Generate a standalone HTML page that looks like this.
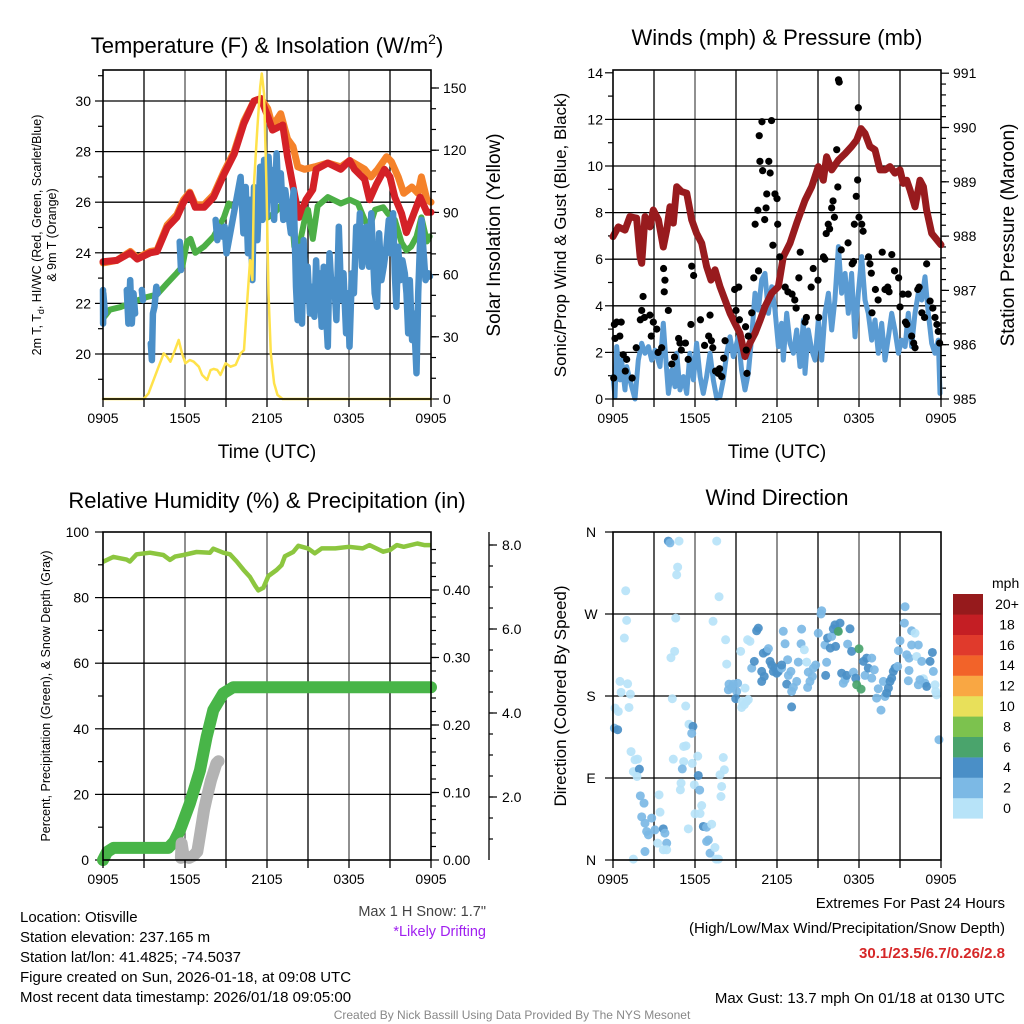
<!DOCTYPE html>
<html><head><meta charset="utf-8"><style>
html,body{margin:0;padding:0;background:#fff;}
svg{display:block;font-family:"Liberation Sans",Arial,sans-serif;}
</style></head><body>
<svg id="chart" width="1024" height="1024" viewBox="0 0 1024 1024" xmlns="http://www.w3.org/2000/svg">
<rect x="0" y="0" width="1024" height="1024" fill="#fff"/>
<text x="267" y="53" font-size="22" text-anchor="middle">Temperature (F) &amp; Insolation (W/m<tspan font-size="14" dy="-9">2</tspan><tspan dy="9">)</tspan></text>
<text x="777" y="45" font-size="22" text-anchor="middle">Winds (mph) &amp; Pressure (mb)</text>
<text x="267" y="508" font-size="22" text-anchor="middle">Relative Humidity (%) &amp; Precipitation (in)</text>
<text x="777" y="505" font-size="22" text-anchor="middle">Wind Direction</text>
<text x="267" y="458" font-size="19" text-anchor="middle">Time (UTC)</text>
<text x="777" y="458" font-size="19" text-anchor="middle">Time (UTC)</text>
<text transform="translate(41,235) rotate(-90)" font-size="12.5" text-anchor="middle">2m T, T<tspan font-size="9" dy="3">d</tspan><tspan dy="-3">, HI/WC (Red, Green, Scarlet/Blue)</tspan></text>
<text transform="translate(56,235) rotate(-90)" font-size="12.5" text-anchor="middle">&amp; 9m T (Orange)</text>
<text transform="translate(500,235) rotate(-90)" font-size="19" text-anchor="middle">Solar Insolation (Yellow)</text>
<text transform="translate(566,235) rotate(-90)" font-size="17" text-anchor="middle">Sonic/Prop Wind &amp; Gust (Blue, Black)</text>
<text transform="translate(1014,235) rotate(-90)" font-size="19" text-anchor="middle">Station Pressure (Maroon)</text>
<text transform="translate(50,696) rotate(-90)" font-size="12.5" text-anchor="middle">Percent, Precipitation (Green), &amp; Snow Depth (Gray)</text>
<text transform="translate(566,696) rotate(-90)" font-size="17" text-anchor="middle">Direction (Colored By Speed)</text>
<g font-size="15">
<text x="20" y="922">Location: Otisville</text>
<text x="20" y="942">Station elevation: 237.165 m</text>
<text x="20" y="962">Station lat/lon: 41.4825; -74.5037</text>
<text x="20" y="982">Figure created on Sun, 2026-01-18, at 09:08 UTC</text>
<text x="20" y="1002">Most recent data timestamp: 2026/01/18 09:05:00</text>
</g>
<text x="486" y="916" font-size="14.5" fill="#444" text-anchor="end">Max 1 H Snow: 1.7"</text>
<text x="486" y="936" font-size="14.5" fill="#a020f0" text-anchor="end">*Likely Drifting</text>
<text x="1005" y="908" font-size="15" text-anchor="end">Extremes For Past 24 Hours</text>
<text x="1005" y="933" font-size="15" text-anchor="end">(High/Low/Max Wind/Precipitation/Snow Depth)</text>
<text x="1005" y="958" font-size="15" font-weight="bold" fill="#d62728" text-anchor="end">30.1/23.5/6.7/0.26/2.8</text>
<text x="1005" y="1003" font-size="15" text-anchor="end">Max Gust: 13.7 mph On 01/18 at 0130 UTC</text>
<text x="512" y="1019" font-size="12" fill="#888" text-anchor="middle">Created By Nick Bassill Using Data Provided By The NYS Mesonet</text>
<g id="p1"></g>
<g id="p2"></g>
<g id="p3"></g>
<g id="p4"></g>
</svg>
<script>
// ---------- DATA (hours since 0905 UTC) ----------
const xTickLabels = ["0905","1505","2105","0305","0905"];
const tempTicks = [20,22,24,26,28,30];
const insolTicks = [0,30,60,90,120,150];
const redT = [0,1,2,2.5,3.45,3.95,4.7,5.4,5.9,6.35,6.75,7.4,8.1,8.85,9.6,10.3,11.05,11.55,12.05,12.4,13.15,13.5,14.0,14.35,14.85,15.35,15.6,16.45,17.4,18.05,18.4,19.15,19.5,20.0,20.6,21.0,21.35,21.85,22.2,22.6,23.2,23.7,24];
const redV = [23.65,23.7,24.0,23.75,24.0,24.05,25.0,25.4,26.0,26.35,25.8,25.8,26.2,27.1,27.9,29.1,30.0,30.1,29.4,28.85,29.05,27.8,26.35,25.4,26.1,26.5,27.3,27.55,27.3,27.65,27.3,26.9,26.1,26.7,27.3,27.0,26.2,25.55,24.8,25.35,26.2,25.6,25.6];
const orangeT = [0,1,2,2.5,3.45,3.95,4.7,5.4,5.9,6.35,6.75,7.4,8.1,8.85,9.6,10.3,11.05,11.55,12.05,12.4,13.0,13.5,13.9,14.25,14.75,15.5,16.45,17.4,18.05,19.15,19.6,20.1,20.75,21.1,21.6,22.0,22.6,23.05,23.3,23.7,24];
const orangeV = [23.6,23.7,24.05,23.8,24.05,24.1,25.1,25.5,26.1,26.4,25.9,25.9,26.3,27.2,28.0,29.2,30.0,30.1,29.7,29.0,29.5,28.5,28.2,27.4,27.3,27.4,27.55,27.4,27.65,27.3,27.0,27.3,27.8,27.6,27.0,26.35,26.6,26.35,27.0,26.1,26.0];
const greenT = [0,0.5,1.25,2.2,3.2,3.95,4.7,5.4,5.8,6.15,6.4,6.75,7.4,8.1,8.85,9.2,9.6,10.05,10.55,11.05,11.55,12.05,12.5,13.15,13.5,13.85,14.0,14.35,14.75,15.0,15.35,15.7,16.45,17.4,18.05,18.65,19.15,19.5,19.9,20.5,20.85,21.35,21.85,22.2,22.55,22.95,23.3,23.7,23.9];
const greenV = [21.4,21.75,21.85,22.05,22.25,22.35,22.8,23.2,23.45,24.45,24.55,24.0,24.25,24.65,25.4,25.95,25.8,26.35,26.1,26.1,25.95,25.4,25.55,25.95,25.55,25.3,24.25,24.25,25.3,25.7,24.55,25.85,26.2,25.95,26.1,25.95,25.3,25.0,25.7,25.8,25.55,25.3,24.4,24.1,24.25,24.65,25.4,24.45,24.65];
const blueT = [0,0.01,0.02,0.15,null,1.74,1.86,1.99,2.11,2.23,2.35,null,2.84,2.92,null,3.5,3.58,3.65,3.77,3.9,4.0,null,5.61,5.71,null,8.24,8.36,8.48,8.73,8.9,9.04,10.07,10.27,10.44,10.61,10.76,10.93,11.05,11.3,11.5,11.67,11.79,11.96,12.11,12.28,12.4,12.52,12.7,12.84,13.01,13.19,13.33,13.5,13.75,13.95,14.12,14.24,14.41,14.56,14.68,14.85,14.97,15.15,15.29,15.47,15.59,15.71,15.83,16.0,16.15,16.32,16.45,16.57,16.74,16.91,17.08,17.25,17.43,17.6,17.79,17.92,18.04,18.21,18.36,18.53,18.65,18.8,18.95,19.14,19.29,19.46,19.63,19.75,19.88,20.05,20.2,20.37,20.54,20.74,20.91,21.05,21.23,21.35,21.47,21.59,21.76,21.91,22.08,22.21,22.33,22.45,22.62,22.75,22.94,23.06,23.19,23.31,23.43,23.6,23.8,23.92];
const blueV = [22.53,21.2,22.4,21.6,null,22.53,21.2,22.92,21.2,22.4,21.6,null,22.53,22.13,null,20.42,19.76,21.6,21.87,22.66,22.4,null,24.44,23.32,null,25.3,24.5,25.03,24.64,25.03,23.98,27.0,24.77,26.6,23.98,26.09,22.92,26.6,24.5,27.4,25.3,27.67,25.43,27.8,26.09,27.27,25.3,27.93,26.09,27.14,25.3,26.48,25.82,24.77,26.48,22.66,21.34,24.24,21.2,24.5,22.13,23.45,21.6,22.66,21.47,23.7,22.13,23.19,21.08,23.45,21.6,20.29,23.98,22.4,22.92,21.34,25.03,22.13,23.19,20.82,22.4,20.29,23.19,22.4,25.03,23.98,25.56,23.45,24.24,25.03,23.45,25.56,23.98,22.4,21.87,24.77,22.92,23.45,24.24,25.3,23.98,25.56,23.19,21.87,24.24,22.92,23.7,23.19,22.4,20.82,22.92,20.55,21.6,19.24,22.4,24.24,25.3,24.24,22.92,23.19,23.06];
const insolT = [0,2.97,3.33,3.7,4.07,4.44,4.68,4.93,5.17,5.54,5.78,6.03,6.35,6.64,7.01,7.25,7.62,7.87,8.11,8.36,8.6,8.97,9.34,9.71,10.07,10.32,10.56,10.76,10.93,11.05,11.3,11.5,11.62,11.79,11.96,12.11,12.28,12.52,12.77,13.14,24];
const insolV = [0,0,2.7,9.2,15.6,22,20.4,18,22,28.5,22,17.2,18.8,18,15.6,11.6,9.2,14,14.5,14,11.6,17.2,15.6,16.5,22,23.6,47.8,67,57.4,104,131,150.6,157,147,102,51,22,7.6,2,0,0];

const windTicks = [0,2,4,6,8,10,12,14];
const presTicks = [985,986,987,988,989,990,991];
const presT = [0,0.39,0.88,1.24,1.73,1.98,2.1,2.34,2.71,2.95,3.32,3.68,3.93,4.17,4.41,4.66,5.02,5.39,5.76,6.12,6.49,6.85,7.17,7.46,7.83,8.2,8.56,8.93,9.29,9.66,10.02,10.39,10.76,11.12,11.61,12.1,12.46,12.95,13.44,14.05,14.54,15.02,15.39,15.63,16.0,16.49,16.98,17.46,17.83,18.15,18.44,18.8,19.17,19.54,19.9,20.27,20.63,21.0,21.24,21.49,21.73,22.1,22.46,22.71,22.95,23.32,23.8,24];
const presV = [987.99,988.17,988.11,988.36,988.33,987.62,987.5,988.36,988.17,988.48,988.3,987.8,988.11,988.54,988.24,988.91,988.82,988.79,988.3,988.05,987.87,987.44,987.19,987.38,987.07,986.82,986.58,986.39,986.21,985.78,986.03,986.21,986.45,986.7,986.95,987.07,987.62,987.87,988.24,988.66,988.91,989.28,989.03,989.46,989.22,989.4,989.52,989.65,989.77,989.98,989.89,989.65,989.59,989.22,989.22,989.28,989.16,989.22,988.97,989.03,988.85,988.54,989.03,988.91,988.48,988.05,987.9,987.84];
const windT = [0,0.15,0.27,0.51,0.63,0.88,1.0,1.24,1.61,1.85,2.1,2.34,2.59,2.83,3.07,3.44,3.68,3.8,4.05,4.29,4.54,4.66,4.9,5.15,5.39,5.63,5.88,6.12,6.37,6.61,6.85,7.1,7.34,7.59,7.83,8.07,8.32,8.56,8.8,9.17,9.41,9.66,9.9,10.15,10.39,10.63,10.88,11.12,11.37,11.61,11.85,12.1,12.34,12.46,12.71,12.95,13.2,13.44,13.68,13.93,14.05,14.29,14.54,14.78,15.02,15.27,15.51,15.76,16.0,16.24,16.49,16.73,16.98,17.22,17.46,17.71,17.95,18.2,18.44,18.68,18.93,19.17,19.41,19.66,19.9,20.15,20.39,20.63,20.88,21.12,21.37,21.61,21.85,22.1,22.34,22.59,22.83,23.07,23.32,23.56,23.8,23.93];
const windV = [0.96,0.1,2.25,0.82,1.67,0.39,1.39,0.82,0,1.67,2.39,1.96,2.25,1.67,2.1,1.39,3.25,2.25,0.24,1.24,0.53,1.96,0.39,0.96,0.24,1.96,0.82,2.39,0.96,0.24,0.96,1.96,0.82,0.03,0.1,0.82,1.96,2.67,1.82,2.67,1.24,0.39,1.1,2.67,4.54,3.82,5.11,5.39,3.68,4.82,3.82,2.25,3.25,1.67,3.68,2.39,1.96,2.96,1.39,3.39,1.1,2.96,2.1,1.67,3.39,1.67,3.68,4.54,2.96,4.25,6.54,4.54,5.39,3.68,5.39,2.67,4.54,6.11,4.25,3.68,2.53,3.39,1.96,3.25,1.67,2.67,3.68,2.96,1.96,2.53,2.25,3.68,2.25,3.68,4.54,4.25,5.25,3.68,2.39,1.96,2.53,0.24];
const gustT = [0.05,0.1,0.15,0.27,0.5,0.6,0.75,0.9,1.0,1.4,1.7,2.0,2.1,2.2,2.3,2.7,2.8,2.95,3.2,3.3,3.56,3.7,3.75,3.8,4.05,4.3,4.5,4.8,4.9,5.0,5.3,5.5,5.7,5.76,5.9,6.4,6.7,7.0,7.1,7.2,7.3,7.5,7.7,7.8,7.95,8.1,8.2,8.9,9.0,9.2,9.25,9.7,9.75,9.8,9.9,10.15,10.3,10.4,10.6,10.65,10.7,10.75,10.9,10.95,11.1,11.2,11.25,11.4,11.5,11.6,11.7,11.85,12.0,12.05,12.2,12.6,12.8,13.1,13.3,13.4,13.6,13.7,14.05,14.15,14.5,14.65,15.0,15.05,15.4,15.5,15.6,15.75,15.85,16.0,16.1,16.2,16.37,16.45,16.5,16.55,16.7,17.2,17.5,17.6,17.66,17.8,17.9,17.95,18.0,18.2,18.3,18.7,18.8,18.9,18.95,19.2,19.4,19.7,19.9,20.1,20.2,20.4,20.6,20.9,21.0,21.2,21.4,21.5,21.6,21.85,22.0,22.1,22.3,22.4,22.6,22.8,22.95,23.2,23.4,23.56,23.7,23.8,23.9];
const gustV = [0.9,3.2,2.6,3.3,2.7,3.3,1.9,1.2,1.7,0.9,2.2,3.4,3.8,4.4,3.5,3.6,2.7,3.3,3.0,2.0,2.2,5.6,4.6,5.1,3.8,1.5,1.8,2.6,2.4,2.1,2.4,1.7,3.2,5.7,5.3,3.4,2.3,2.7,3.6,2.5,2.2,1.2,1.1,1.3,0.96,1.75,2.5,4.7,3.8,4.8,3.4,3.1,2.1,1.1,2.7,3.7,5.2,7.5,8.1,5.5,11.3,10.2,11.9,9.8,7.7,8.2,8.8,10.2,9.7,11.95,6.6,8.8,8.6,7.5,6.1,4.8,4.6,4.5,4.25,3.9,5.2,6.3,3.3,3.5,4.8,5.6,5.1,3.5,6.1,6.0,7.1,7.5,7.3,8.2,8.5,7.8,10.7,9.1,13.7,13.6,6.4,6.7,5.8,5.9,7.5,8.7,9.4,12.5,7.8,7.5,7.2,6.1,5.8,5.4,3.7,4.7,4.25,6.3,4.7,4.8,4.6,6.2,5.5,5.2,3.95,4.5,3.3,3.2,4.5,2.7,2.4,2.2,4.7,4.8,3.7,3.5,5.8,4.2,3.9,3.5,3.2,2.9,2.4];

const rhTicks = [0,20,40,60,80,100];
const precipTicks = ["0.00","0.10","0.20","0.30","0.40"];
const snowTicks = [2,4,6,8];
const rhT = [0,0.76,1.73,1.97,2.46,3.44,4.41,4.9,5.27,5.88,6.85,7.83,8.07,8.8,9.29,9.78,10.27,10.75,11.12,11.36,11.73,12.1,12.7,13.07,13.31,13.92,14.29,15,15.5,16,17,18,19,19.5,20,20.5,21,21.5,22,23,23.5,24];
const rhV = [90.9,92.4,91.6,91.0,93.2,93.7,93.0,91.5,92.5,93,93.9,93.7,94.9,93.7,93.2,91,88.5,86.3,83.7,82.2,83,86.6,88.4,89.9,92.6,93.9,95.8,95,93.5,95,95,95.5,95,96,95,94,94.5,96,95.5,96.5,96,96];
const precipT = [0,0.3,0.76,4.78,5.2,5.63,6.36,7.1,7.58,8.07,8.8,9.53,24];
const precipV = [0,0.012,0.018,0.018,0.027,0.044,0.084,0.133,0.182,0.222,0.247,0.256,0.256];
const snowT = [5.7,5.75,5.9,6.3,6.6,6.9,7.0,7.2,7.4,7.6,7.9,8.1,8.3,8.45];
const snowV = [0.55,0.9,0.6,0.55,0.6,0.7,0.9,1.3,1.7,2.0,2.4,2.6,2.8,2.85];

const dirLabels = ["N","E","S","W","N"];
const dirT = [4.05,4.17,4.83,7.59,4.73,4.66,0.93,7.76,4.59,1.0,7.32,0.83,8.24,4.51,4.24,9.34,8.32,0.51,1.07,0.59,1.27,4.34,5.32,0.15,1.17,0.39,0.1,0.34,5.56,5.85,5.76,5.34,5.17,1.32,1.8,1.61,4.41,5.17,5.8,6.2,8.07,8.15,1.49,1.93,1.76,7.83,5.07,6.24,4.98,5.95,4.93,6.34,7.95,2.0,2.27,3.37,6.49,7.9,2.1,2.83,2.34,2.46,3.07,3.68,2.59,3.8,3.44,6.0,6.37,6.61,6.85,5.51,7.22,6.98,6.85,3.27,3.93,3.68,3.93,2.34,7.1,7.46,1.49,7.54,7.71,8.49,8.8,9.12,8.68,9.05,8.44,9.66,8.98,9.46,9.78,9.41,9.9,9.61,10.51,10.63,9.85,10.02,10.15,10.34,10.88,11.0,11.24,11.37,10.88,11.49,11.61,11.85,12.1,11.98,11.73,11.07,12.34,12.46,12.59,12.78,12.34,12.71,12.83,13.02,13.2,13.44,13.07,13.07,13.56,13.8,13.76,14.0,14.17,14.29,14.41,14.24,14.59,14.66,14.83,15.02,15.27,15.22,15.51,15.63,15.56,15.7,15.9,16.0,16.12,16.24,16.44,16.61,16.49,16.29,16.73,16.85,16.98,17.1,17.34,17.17,17.46,17.59,17.76,17.83,18.15,18.0,18.32,18.44,18.56,18.68,18.93,19.12,18.93,19.29,19.41,19.61,19.78,19.9,20.02,20.15,20.27,20.39,20.51,20.63,20.83,20.88,21.0,21.37,21.32,21.49,21.66,21.66,21.85,21.85,22.1,22.22,22.34,22.59,22.71,22.83,22.95,23.2,23.37,23.44,22.34,22.46,21.61,23.56,23.61,23.68,23.85];
const dirV = [350,348,350,350,321.5,313,295.5,289,265.5,263,262,243.6,241.7,229,222,229,215,196,193.4,184,182,177,169,166.7,167.4,163,144.7,143,149,146.6,139,125.3,124.6,119,110.7,110,110.7,108,106,114,112.5,99,97,99.7,91.7,93.5,100,92.8,84.4,82.5,77,76.7,80.7,70.4,62.4,71.5,59.8,69.7,47.4,46,40.4,31.3,33,34.2,27.6,29.5,52.5,50.7,51,36.8,36,34.2,39.3,22,20.3,18.5,18.5,11.2,11.2,9.3,7.5,13.7,1,1,1,193,193,194,188.7,185,186.8,188.7,177,174,174,167.4,176,170.4,251.6,254.5,241.7,240,210.6,218,196,227,229,232,207,218,214,210.6,207,205,207,201.5,210.6,251,237.3,219.8,214,193,202.6,207,189.4,196,185,168,217.2,253.4,237.3,230.7,217.2,206.2,196,189.4,201.5,210.6,214,249,273.6,270,236,217,202.6,243.6,232.6,245.4,253.8,258,251.6,260,250.9,234.4,205,194,197.8,202.6,253.8,237,229,206.2,199.6,192.3,187.6,231.8,218,202.6,221.6,210.6,221.6,208.8,199.6,177.7,188,164.5,196,179.5,183.2,188.7,196,199.6,207,210.6,212.5,229.7,240.6,278,260,225.3,221.6,208,236,251.6,249,223.4,236,218,199,194,190.5,218,227.8,207,192.3,197.8,196.7,192.3,185,181.3,132];
const dirSpd = [5,3,1,1,1,1,1,1,1,1,1,1,1,1,1,1,1,1,1,1,1,1,1,1,1,1,3,5,1,5,3,1,1,1,1,1,1,1,1,1,1,1,1,5,1,1,3,5,1,1,1,3,1,3,3,1,1,1,3,3,3,3,3,5,3,3,1,1,1,5,3,1,1,3,3,1,3,1,1,3,3,1,1,1,1,3,3,3,3,3,3,1,5,1,1,1,1,1,5,5,1,1,3,5,5,5,5,3,5,5,5,5,5,5,5,5,3,3,3,3,5,5,3,3,3,3,3,5,3,3,3,1,1,3,3,3,3,3,3,3,3,3,3,3,5,5,5,3,5,5,5,5,7,5,5,3,3,5,5,3,5,3,5,7,7,7,5,3,5,5,3,3,3,3,3,3,3,3,5,5,5,5,5,5,3,3,3,3,3,3,3,3,3,3,1,1,3,3,1,3,5,5,5,3,3,3,3,1,1,1,3,3,1];
const spdLabels = ["0","2","4","6","8","10","12","14","16","18","20+"];
const spdColors = ["#b7e3f8","#7cb9e5","#4a8fc7","#4aa46c","#7cc24e","#e8e05a","#f9a743","#f26329","#e03a2c","#c41e24","#961a1c"];

// ---------- helpers ----------
const NS = "http://www.w3.org/2000/svg";
function mk(parent, tag, attrs){ const e=document.createElementNS(NS,tag); for(const k in attrs) e.setAttribute(k,attrs[k]); parent.appendChild(e); return e; }
function linePath(T,V,sx,sy){ let d="",pen=false; for(let i=0;i<T.length;i++){ if(T[i]===null||V[i]===null){pen=false;continue;} d+=(pen?"L":"M")+sx(T[i]).toFixed(1)+","+sy(V[i]).toFixed(1); pen=true;} return d; }
function frame(g,L,T,R,B){ const f=mk(g,"rect",{x:L,y:T,width:R-L,height:B-T,fill:"none",stroke:"#000","stroke-width":1.6});

 }
function vgrid(g,L,T,R,B){ for(let k=1;k<8;k++){ const x=L+(R-L)*k/8; const l=mk(g,"line",{x1:x,x2:x,y1:T,y2:B,stroke:k%2?"#000":"#555","stroke-width":1.3});

 } }
function xAxis(g,L,R,B){ for(let k=0;k<=8;k++){ const x=L+(R-L)*k/8; const t=mk(g,"line",{x1:x,x2:x,y1:B,y2:B+8,stroke:"#000","stroke-width":1.3});

 }
 for(let k=0;k<xTickLabels.length;k++){ const tx=mk(g,"text",{x:L+(R-L)*k/4,y:B+24,"font-size":14,"text-anchor":"middle"}); tx.textContent=xTickLabels[k];
 
  } }
function hgrid(g,L,R,y){ const l=mk(g,"line",{x1:L,x2:R,y1:y,y2:y,stroke:"#000","stroke-width":1.3});

 }
function tick(g,x,y,len,name){ const t=mk(g,"line",{x1:x,x2:x+len,y1:y,y2:y,stroke:"#000","stroke-width":1.2});

 }
function label(g,x,y,txt,anchor,name,size){ const t=mk(g,"text",{x:x,y:y+5,"font-size":size||14,"text-anchor":anchor}); t.textContent=txt;

 return t; }

// ---------- Panel 1 ----------
(function(){
 const g=document.getElementById("p1"); const L=103,R=431,T=70,B=399;
 const sx=h=>L+(R-L)*h/24, sy=v=>354-(v-20)*25.3, si=v=>399-v*311/150;
 vgrid(g,L,T,R,B);
 tempTicks.forEach(v=>{ hgrid(g,L,R,sy(v)); tick(g,L,sy(v),-8,'temp-tick'); label(g,L-12,sy(v),String(v),"end",'temp-tick-label'); });
 for(let v=19;v<=31;v+=2){ tick(g,L,sy(v),-5,'temp-minor-tick'); }
 insolTicks.forEach(v=>{ tick(g,R,si(v),8,'insol-tick'); label(g,R+12,si(v),String(v),"start",'insol-tick-label'); });
 for(let v=10;v<=150;v+=10){ tick(g,R,si(v),5,'insol-minor-tick'); }
 const series=[[orangeT,orangeV,"#f5822a",7,sy,'temp-9m-line'],[redT,redV,"#d42127",7,sy,'temp-2m-line'],[greenT,greenV,"#4caf46",6,sy,'dewpoint-line'],[blueT,blueV,"#4a8fc8",6.5,sy,'heat-index-line'],[insolT,insolV,"#ffe24a",2.5,si,'insolation-line']];
 series.forEach(s=>{ const p=mk(g,"path",{d:linePath(s[0],s[1],sx,s[4]),fill:"none",stroke:s[2],"stroke-width":s[3],"stroke-linejoin":"round","stroke-linecap":"round"});
 
  });
 frame(g,L,T,R,B); xAxis(g,L,R,B);
})();

// ---------- Panel 2 ----------
(function(){
 const g=document.getElementById("p2"); const L=613,R=941,T=70,B=399;
 const sx=h=>L+(R-L)*h/24, sy=v=>399-v*23.3, sp=v=>399-(v-985)*54.3;
 vgrid(g,L,T,R,B);
 windTicks.forEach(v=>{ if(v>0&&v<14) hgrid(g,L,R,sy(v)); tick(g,L,sy(v),-8,'wind-tick'); label(g,L-10,sy(v),String(v),"end",'wind-tick-label'); });
 for(let v=1;v<14;v+=2){ tick(g,L,sy(v),-5,'wind-minor-tick'); }
 presTicks.forEach(v=>{ tick(g,R,sp(v),8,'pressure-tick'); label(g,R+12,sp(v),String(v),"start",'pressure-tick-label'); });
 for(let v=985.2;v<991;v+=0.2){ tick(g,R,sp(v),5,'pressure-minor-tick'); }
 const w=mk(g,"path",{d:linePath(windT,windV,sx,sy),fill:"none",stroke:"#5a9bd3","stroke-width":5,"stroke-linejoin":"round","stroke-linecap":"round"});
 
 
 const p=mk(g,"path",{d:linePath(presT,presV,sx,sp),fill:"none",stroke:"#981b1e","stroke-width":7,"stroke-linejoin":"round","stroke-linecap":"round"});
 
 
 for(let i=0;i<gustT.length;i++){ const c=mk(g,"circle",{cx:sx(gustT[i]),cy:sy(gustV[i]),r:3.6,fill:"#000"});
 
  }
 frame(g,L,T,R,B); xAxis(g,L,R,B);
})();

// ---------- Panel 3 ----------
(function(){
 const g=document.getElementById("p3"); const L=103,R=431,T=532,B=860;
 const sx=h=>L+(R-L)*h/24, sy=v=>860-v*3.28, sp=v=>860-v*675, ss=v=>797-(v-2)*42;
 vgrid(g,L,T,R,B);
 rhTicks.forEach(v=>{ if(v>0&&v<100) hgrid(g,L,R,sy(v)); tick(g,L,sy(v),-8,'rh-tick'); label(g,L-14,sy(v),String(v),"end",'rh-tick-label'); });
 for(let v=10;v<100;v+=20){ tick(g,L,sy(v),-5,'rh-minor-tick'); }
 precipTicks.forEach(v=>{ tick(g,R,sp(+v),8,'precip-tick'); label(g,R+12,sp(+v),v,"start",'precip-tick-label'); });
 for(let v=0.02;v<0.47;v+=0.02){ tick(g,R,sp(v),5,'precip-minor-tick'); }
 const ax=mk(g,"line",{x1:489,x2:489,y1:532,y2:860,stroke:"#000","stroke-width":1.3});
 
 
 snowTicks.forEach(v=>{ tick(g,489,ss(v),8,'snow-tick'); label(g,502,ss(v),v.toFixed(1),"start",'snow-tick-label'); });
 for(let v=1;v<=8.5;v+=0.5){ if(ss(v)>=532&&ss(v)<=860) tick(g,489,ss(v),4,'snow-minor-tick'); }
 const rh=mk(g,"path",{d:linePath(rhT,rhV,sx,sy),fill:"none",stroke:"#8cc63f","stroke-width":4.5,"stroke-linejoin":"round"});
 
 
 const pr=mk(g,"path",{d:linePath(precipT,precipV,sx,sp),fill:"none",stroke:"#48b548","stroke-width":12,"stroke-linejoin":"round","stroke-linecap":"round"});
 
 
 const sn=mk(g,"path",{d:linePath(snowT,snowV,sx,ss),fill:"none",stroke:"#b3b3b3","stroke-width":12,"stroke-linejoin":"round","stroke-linecap":"round"});
 
 
 frame(g,L,T,R,B); xAxis(g,L,R,B);
})();

// ---------- Panel 4 ----------
(function(){
 const g=document.getElementById("p4"); const L=613,R=941,T=532,B=860;
 const sx=h=>L+(R-L)*h/24, sy=d=>860-d*328/360;
 vgrid(g,L,T,R,B);
 dirLabels.forEach((s,i)=>{ const y=sy(i*90); if(i>0&&i<4) hgrid(g,L,R,y); tick(g,L,y,-8,'direction-tick'); label(g,L-22,y,s,"middle",'direction-tick-label'); });
 for(let i=0;i<dirT.length;i++){ const bin=Math.min(10,Math.floor(dirSpd[i]/2)); const c=mk(g,"circle",{cx:sx(dirT[i]),cy:sy(dirV[i]),r:4.5,fill:spdColors[bin],"fill-opacity":0.92});
 
  }
 frame(g,L,T,R,B); xAxis(g,L,R,B);
 const lg=mk(g,"g",{});
 
 
 const mph=mk(lg,"text",{x:992,y:588,"font-size":14}); mph.textContent="mph";
 
 
 for(let k=0;k<11;k++){ const y=594+(10-k)*20.4; const r=mk(lg,"rect",{x:953,y:y,width:30,height:20.6,fill:spdColors[k]});
 
 
 const t=mk(lg,"text",{x:1007,y:y+15,"font-size":14,"text-anchor":"middle"}); t.textContent=spdLabels[k];
 
  }
})();
</script>
</body></html>
